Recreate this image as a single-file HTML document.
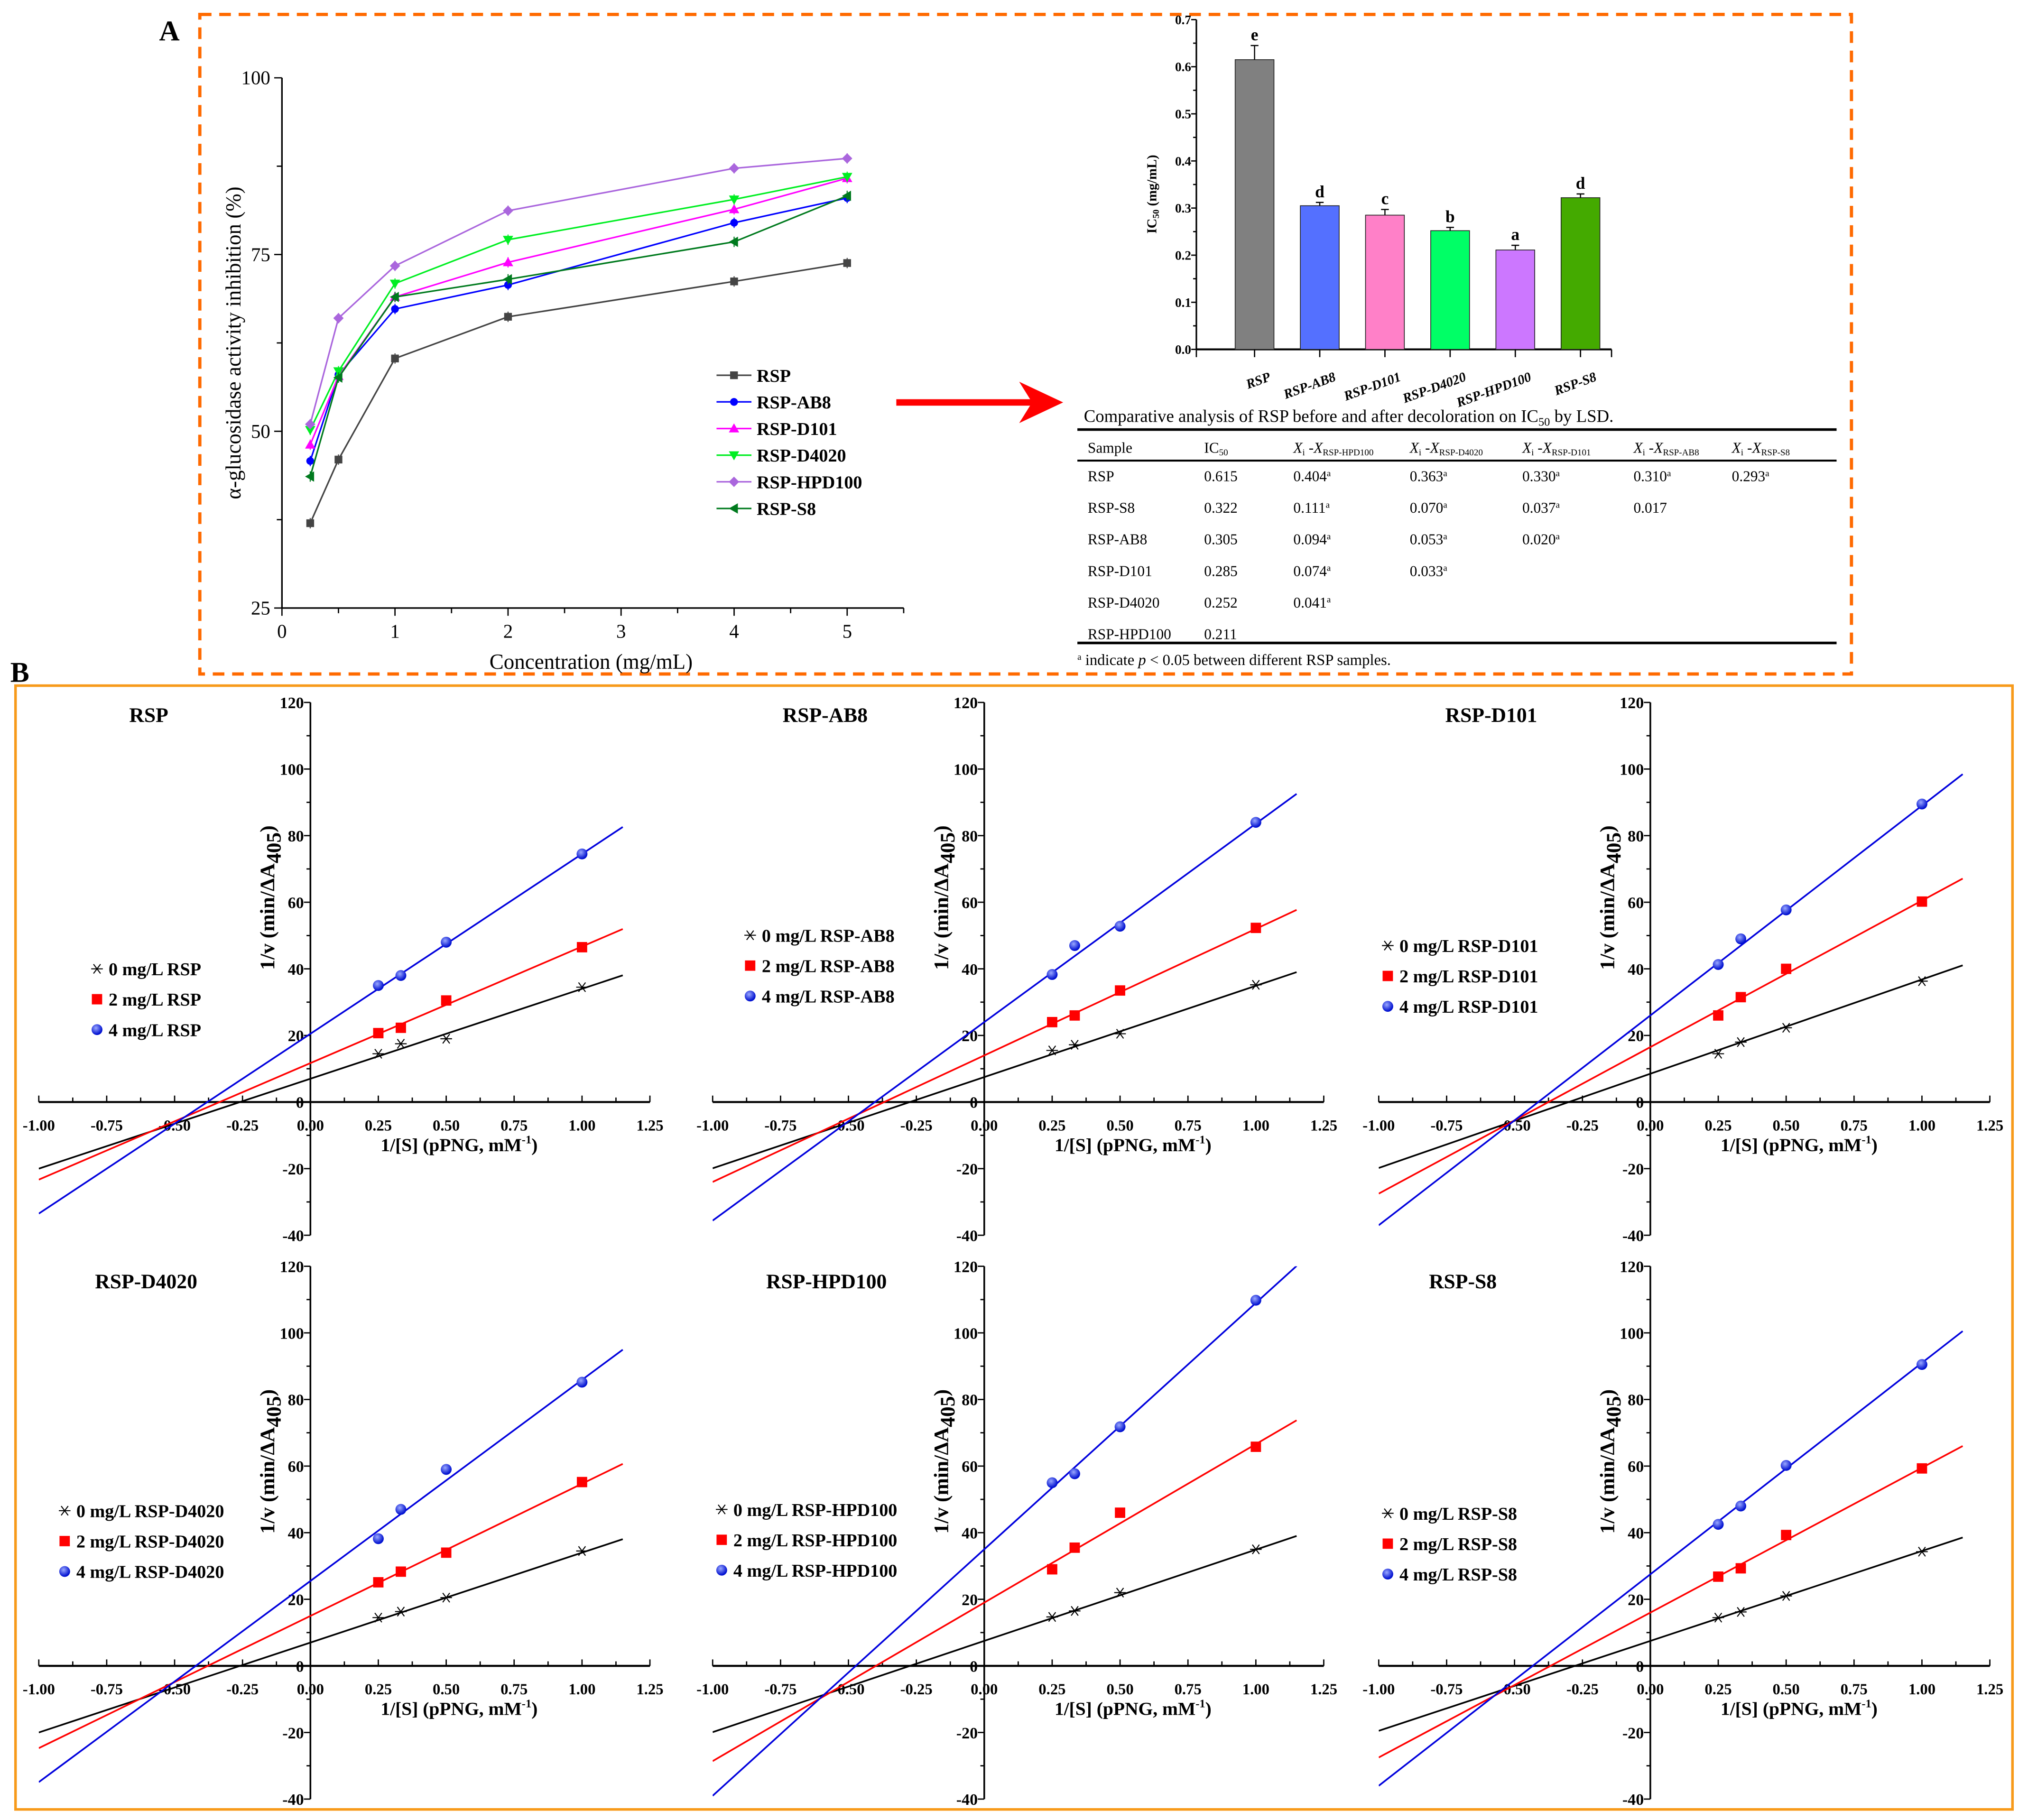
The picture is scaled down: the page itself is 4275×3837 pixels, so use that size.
<!DOCTYPE html>
<html><head><meta charset="utf-8"><style>
html,body{margin:0;padding:0;background:#fff;}
svg{display:block;}
text{font-family:"Liberation Serif","DejaVu Serif",serif;}
</style></head>
<body>
<svg id="fig" width="4275" height="3837" viewBox="0 0 1568 1407" xmlns="http://www.w3.org/2000/svg" font-family="Liberation Serif, DejaVu Serif, serif">
<rect x="0" y="0" width="1568" height="1407" fill="#fff"/>
<text x="123" y="31" font-size="22" font-weight="bold">A</text>
<text x="8" y="527" font-size="22" font-weight="bold">B</text>
<rect x="154.5" y="11" width="1277" height="510" fill="none" stroke="#ff6a00" stroke-width="2.5" stroke-dasharray="9,6"/>
<rect x="12" y="530" width="1544" height="869" fill="none" stroke="#f79a1a" stroke-width="2"/>
<g id="line-chart"></g>
<g id="bar-chart"></g>
<g id="arrow">
<line x1="693" y1="311" x2="800" y2="311" stroke="#ff0000" stroke-width="5"/>
<polygon points="822,311 788,295 798,311 788,327" fill="#ff0000"/>
</g>
<g id="table"></g>
<g id="kinetics"></g>
</svg>
<script>
// ---------- Line chart data ----------
const concX = [0.25, 0.5, 1, 2, 4, 5];
const lineSeriesNames = ["RSP","RSP-AB8","RSP-D101","RSP-D4020","RSP-HPD100","RSP-S8"];
const inhRSP = [37, 46, 60.3, 66.2, 71.2, 73.8];
const inhAB8 = [45.8, 58, 67.3, 70.7, 79.5, 83];
const inhD101 = [48.1, 57.8, 69, 73.9, 81.4, 85.8];
const inhD4020 = [50.2, 58.5, 70.9, 77.1, 82.8, 86];
const inhHPD100 = [51, 66, 73.4, 81.2, 87.2, 88.6];
const inhS8 = [43.6, 57.6, 69, 71.5, 76.8, 83.3];
const lineXTicks = [0,1,2,3,4,5];
const lineYTicks = [25,50,75,100];

// ---------- Bar chart data ----------
const barCats = ["RSP","RSP-AB8","RSP-D101","RSP-D4020","RSP-HPD100","RSP-S8"];
const barVals = [0.615, 0.305, 0.285, 0.252, 0.211, 0.322];
const barErr = [0.03, 0.007, 0.012, 0.007, 0.01, 0.008];
const barLetters = ["e","d","c","b","a","d"];
const barYTicks = [0,0.1,0.2,0.3,0.4,0.5,0.6,0.7];

// ---------- Kinetics data ----------
const invS = [0.25, 0.333, 0.5, 1];
const kinNames = ["RSP","RSP-AB8","RSP-D101","RSP-D4020","RSP-HPD100","RSP-S8"];
const kin0 = [[14.5,17.5,19,34.5],[15.5,17.2,20.5,35.2],[14.5,18,22.3,36.3],[14.5,16.3,20.5,34.5],[14.7,16.5,22,35],[14.5,16.2,21,34.3]];
const kin2 = [[20.7,22.3,30.5,46.5],[24,26,33.5,52.3],[26,31.5,40,60.2],[25.1,28.3,34,55.2],[29,35.5,46,65.8],[26.8,29.3,39.3,59.3]];
const kin4 = [[35,38,48,74.5],[38.3,47,52.8,84],[41.3,49,57.7,89.5],[38.2,47,59,85.2],[55,57.7,71.8,109.8],[42.5,48,60.2,90.5]];
const int0 = [7,7.5,8.5,7,7.5,7.5];
const slope0 = [27,27.4,28.3,27,27.4,27];
const int2 = [11.7,14,16.5,15,19,16];
const slope2 = [35,38,44,39.7,47.6,43.5];
const int4 = [20.5,24,26,25.5,35,27.5];
const slope4 = [54,59.6,63,60.4,74,63.5];
const kinXTicks = [-1,-0.75,-0.5,-0.25,0,0.25,0.5,0.75,1,1.25];
const kinXTickLabels = ["-1.00","-0.75","-0.50","-0.25","0.00","0.25","0.50","0.75","1.00","1.25"];
const kinYTicks = [-40,-20,0,20,40,60,80,100,120];

const NS = "http://www.w3.org/2000/svg";
function mk(parent, tag, attrs, txt){
  const e = document.createElementNS(NS, tag);
  for (const k in attrs) e.setAttribute(k, attrs[k]);
  if (txt !== undefined) e.textContent = txt;
  parent.appendChild(e);
  return e;
}

// ===== Line chart =====
(function(){
  const g = document.getElementById('line-chart');
  const x0 = 218, xu = 87.4, y0 = 470, yTop = 60;
  const xs = v => x0 + v*xu;
  const ys = v => y0 - (v-25)/75*(y0-yTop);
  let a = mk(g,'line',{x1:x0,y1:yTop,x2:x0,y2:y0,stroke:'#000','stroke-width':1.2});
   
  a = mk(g,'line',{x1:x0,y1:y0,x2:xs(5.5),y2:y0,stroke:'#000','stroke-width':1.2});
   
  for (let t=0;t<=5.5;t+=0.5){ mk(g,'line',{x1:xs(t),y1:y0,x2:xs(t),y2:y0+(Number.isInteger(t)?6:4),stroke:'#000','stroke-width':1}); }
  lineXTicks.forEach(t=>{ const e=mk(g,'text',{x:xs(t),y:y0+23,'font-size':15,'text-anchor':'middle'},String(t));
      });
  for (let v=25; v<=100; v+=12.5){ mk(g,'line',{x1:x0,y1:ys(v),x2:x0-(v%25===0?6:4),y2:ys(v),stroke:'#000','stroke-width':1}); }
  lineYTicks.forEach(v=>{ const e=mk(g,'text',{x:x0-9,y:ys(v)+5,'font-size':15,'text-anchor':'end'},String(v));
      });
  let t = mk(g,'text',{x:457,y:517,'font-size':16.5,'text-anchor':'middle'},'Concentration (mg/mL)');
   
  t = mk(g,'text',{x:0,y:0,'font-size':16.5,'text-anchor':'middle',transform:'translate(186,265) rotate(-90)'},'α-glucosidase activity inhibition (%)');
   
  const series = [inhRSP,inhAB8,inhD101,inhD4020,inhHPD100,inhS8];
  const colors = ['#444','#0000ff','#ff00ff','#00ee22','#aa66dd','#007a1e'];
  const shapes = ['sq','ci','tu','td','di','tl'];
  function marker(p, shape, x, y, c, s){
    let e;
    if (shape==='sq') e=mk(p,'rect',{x:x-s,y:y-s,width:2*s,height:2*s,fill:c});
    else if (shape==='ci') e=mk(p,'circle',{cx:x,cy:y,r:s,fill:c});
    else if (shape==='tu') e=mk(p,'polygon',{points:`${x},${y-s-1} ${x-s-1},${y+s} ${x+s+1},${y+s}`,fill:c});
    else if (shape==='td') e=mk(p,'polygon',{points:`${x},${y+s+1} ${x-s-1},${y-s} ${x+s+1},${y-s}`,fill:c});
    else if (shape==='di') e=mk(p,'polygon',{points:`${x},${y-s-1} ${x+s+1},${y} ${x},${y+s+1} ${x-s-1},${y}`,fill:c});
    else e=mk(p,'polygon',{points:`${x-s-1},${y} ${x+s},${y-s-1} ${x+s},${y+s+1}`,fill:c});
    return e;
  }
  series.forEach((arr,si)=>{
    const sg = mk(g,'g',{});
    
    
    const pts = arr.map((v,i)=>xs(concX[i])+','+ys(v)).join(' ');
    mk(sg,'polyline',{points:pts,fill:'none',stroke:colors[si],'stroke-width':1.2});
    arr.forEach((v,i)=>{
      const m = marker(sg, shapes[si], xs(concX[i]), ys(v), colors[si], 3);
       
      mk(sg,'line',{x1:xs(concX[i]),y1:ys(v)-4,x2:xs(concX[i]),y2:ys(v)+4,stroke:colors[si],'stroke-width':0.8});
    });
    const ly = 290 + si*20.6;
    const lg = mk(g,'g',{});
     
    mk(lg,'line',{x1:554,y1:ly,x2:581,y2:ly,stroke:colors[si],'stroke-width':1.2});
    marker(lg, shapes[si], 567.5, ly, colors[si], 3);
    mk(lg,'text',{x:585,y:ly+5,'font-size':14,'font-weight':'bold','font-family':'Liberation Serif, DejaVu Serif, serif'},lineSeriesNames[si]);
  });
})();

// ===== Bar chart =====
(function(){
  const g = document.getElementById('bar-chart');
  const ax = 925, y0 = 270, yTop = 15, xEnd = 1246;
  const ys = v => y0 - v/0.7*(y0-yTop);
  const cx = i => 970 + i*50.4;
  const colors = ['#808080','#5470ff','#ff80c8','#00ff66','#cc77ff','#44aa00'];
  let a = mk(g,'line',{x1:ax,y1:yTop,x2:ax,y2:y0,stroke:'#000','stroke-width':1.2});
   
  a = mk(g,'line',{x1:ax,y1:y0,x2:xEnd,y2:y0,stroke:'#000','stroke-width':1.5});
   
  mk(g,'line',{x1:ax,y1:y0,x2:ax,y2:y0+6,stroke:'#000','stroke-width':1});
  mk(g,'line',{x1:xEnd,y1:y0,x2:xEnd,y2:y0+6,stroke:'#000','stroke-width':1});
  for (let v=0; v<=0.701; v+=0.05){ mk(g,'line',{x1:ax,y1:ys(v),x2:ax-(Math.round(v*100)%10===0?4:2.5),y2:ys(v),stroke:'#000','stroke-width':1}); }
  barYTicks.forEach(v=>{ const e=mk(g,'text',{x:ax-4,y:ys(v)+3.5,'font-size':10,'font-weight':'bold','text-anchor':'end'},v.toFixed(1));
      });
  let t = mk(g,'text',{x:0,y:0,'font-size':10.5,'font-weight':'bold','text-anchor':'middle',transform:'translate(894,150) rotate(-90)'});
   
  t.innerHTML = 'IC<tspan font-size="7" dy="2">50</tspan><tspan dy="-2"> (mg/mL)</tspan>';
  barVals.forEach((v,i)=>{
    const r = mk(g,'rect',{x:cx(i)-15,y:ys(v),width:30,height:y0-ys(v),fill:colors[i],stroke:'#222','stroke-width':0.6});
     
    const eb = mk(g,'g',{stroke:'#000','stroke-width':0.9});
     
    mk(eb,'line',{x1:cx(i),y1:ys(v),x2:cx(i),y2:ys(v+barErr[i])});
    mk(eb,'line',{x1:cx(i)-3,y1:ys(v+barErr[i]),x2:cx(i)+3,y2:ys(v+barErr[i])});
    mk(g,'line',{x1:cx(i),y1:y0,x2:cx(i),y2:y0+6,stroke:'#000','stroke-width':1});
    const l = mk(g,'text',{x:cx(i),y:ys(v+barErr[i])-4,'font-size':13,'font-weight':'bold','text-anchor':'middle'},barLetters[i]);
     
    const c = mk(g,'text',{x:0,y:0,'font-size':10.5,'font-weight':'bold','font-style':'italic','text-anchor':'end',transform:`translate(${cx(i)+13},${y0+24}) rotate(-20)`},barCats[i]);
     
  });
})();

// ===== Table =====
(function(){
  const g = document.getElementById('table');
  let e = mk(g,'text',{x:838,y:326,'font-size':13.5},'');
   
  e.innerHTML = 'Comparative analysis of RSP before and after decoloration on IC<tspan font-size="9" dy="3">50</tspan><tspan dy="-3"> by LSD.</tspan>';
  mk(g,'line',{x1:833,y1:332,x2:1420,y2:332,stroke:'#000','stroke-width':2});
  mk(g,'line',{x1:833,y1:356,x2:1420,y2:356,stroke:'#000','stroke-width':1.5});
  mk(g,'line',{x1:833,y1:497,x2:1420,y2:497,stroke:'#000','stroke-width':2});
  const cols = [841,931,1000,1090,1177,1263,1339];
  const hdr = ['Sample','IC50','HPD100','D4020','D101','AB8','S8'];
  hdr.forEach((h,i)=>{
    const t = mk(g,'text',{x:cols[i],y:350,'font-size':11.5});
     
    if (i===0) t.textContent='Sample';
    else if (i===1) t.innerHTML='IC<tspan font-size="7" dy="2">50</tspan>';
    else t.innerHTML='<tspan font-style="italic">X</tspan><tspan font-size="7" dy="2">i</tspan><tspan dy="-2"> -</tspan><tspan font-style="italic">X</tspan><tspan font-size="7" dy="2">RSP-'+h+'</tspan>';
  });
  const rows = [
    ['RSP','0.615','0.404a','0.363a','0.330a','0.310a','0.293a'],
    ['RSP-S8','0.322','0.111a','0.070a','0.037a','0.017',''],
    ['RSP-AB8','0.305','0.094a','0.053a','0.020a','',''],
    ['RSP-D101','0.285','0.074a','0.033a','','',''],
    ['RSP-D4020','0.252','0.041a','','','',''],
    ['RSP-HPD100','0.211','','','','','']
  ];
  rows.forEach((r,ri)=>{
    const y = 372 + ri*24.4;
    r.forEach((c,ci)=>{
      if(!c) return;
      const t = mk(g,'text',{x:cols[ci],y:y,'font-size':11.5});
       
      if (c.endsWith('a')) t.innerHTML = c.slice(0,-1)+'<tspan font-size="7" dy="-4">a</tspan>';
      else t.textContent = c;
    });
  });
  e = mk(g,'text',{x:833,y:514,'font-size':12});
   
  e.innerHTML = '<tspan font-size="7" dy="-4">a</tspan><tspan dy="4"> indicate </tspan><tspan font-style="italic">p</tspan> &lt; 0.05 between different RSP samples.';
})();

// ===== Kinetics panels =====
(function(){
  const root = document.getElementById('kinetics');
  const colX = [240, 761, 1276];
  const rowY = [852, 1288];
  const xu = 210, yu = 309/120;
  const legendPos = [[75,749],[580,723],[1073,731],[50,1168],[558,1167],[1073,1170]];
  const titlePos = [[115,558],[638,558],[1153,558],[113,996],[639,996],[1131,996]];
  const defs = mk(document.getElementById('fig'),'defs',{});
  const grad = mk(defs,'radialGradient',{id:'ball',cx:'40%',cy:'35%',r:'60%'});
  mk(grad,'stop',{offset:'0%','stop-color':'#9aa8ff'});
  mk(grad,'stop',{offset:'100%','stop-color':'#0010d0'});
  const colors = ['#000','#ff0000','#0000dd'];
  const ints = [int0,int2,int4], slopes=[slope0,slope2,slope4], data=[kin0,kin2,kin4];
  const doses = ['0','2','4'];
  function star(p,x,y,s){ const gg=mk(p,'g',{stroke:'#000','stroke-width':0.8});
    mk(gg,'line',{x1:x-s,y1:y,x2:x+s,y2:y}); mk(gg,'line',{x1:x-s*0.6,y1:y-s*0.8,x2:x+s*0.6,y2:y+s*0.8}); mk(gg,'line',{x1:x-s*0.6,y1:y+s*0.8,x2:x+s*0.6,y2:y-s*0.8}); return gg; }
  function mark(p,k,x,y){
    if(k===0) return star(p,x,y,4.5);
    if(k===1) return mk(p,'rect',{x:x-4,y:y-4,width:8,height:8,fill:'#ff0000'});
    return mk(p,'circle',{cx:x,cy:y,r:4.2,fill:'url(#ball)'});
  }
  kinNames.forEach((name,pi)=>{
    const ox = colX[pi%3], oy = rowY[Math.floor(pi/3)];
    const xs = v => ox + v*xu, ys = v => oy - v*yu;
    const g = mk(root,'g',{});
     
    const clip = mk(defs,'clipPath',{id:'clip'+pi});
    mk(clip,'rect',{x:xs(-1),y:ys(120),width:xs(1.25)-xs(-1),height:ys(-40)-ys(120)});
    let a = mk(g,'line',{x1:ox,y1:ys(-40),x2:ox,y2:ys(120),stroke:'#000','stroke-width':1.3});
     
    a = mk(g,'line',{x1:xs(-1),y1:oy,x2:xs(1.25),y2:oy,stroke:'#000','stroke-width':1.6});
     
    for(let t=-1;t<=1.2501;t+=0.125){ const maj=Math.abs(t*4-Math.round(t*4))<1e-6; mk(g,'line',{x1:xs(t),y1:oy,x2:xs(t),y2:oy-(maj?5:3.5),stroke:'#000','stroke-width':1}); }
    for(let v=-40;v<=120;v+=10){ mk(g,'line',{x1:ox,y1:ys(v),x2:ox-(v%20===0?5:3),y2:ys(v),stroke:'#000','stroke-width':1}); }
    kinXTicks.forEach((t,i)=>{ const e=mk(g,'text',{x:xs(t),y:oy+22,'font-size':12,'font-weight':'bold','text-anchor':'middle'},kinXTickLabels[i]);
        });
    kinYTicks.forEach(v=>{ const e=mk(g,'text',{x:ox-5,y:ys(v)+4.5,'font-size':12.5,'font-weight':'bold','text-anchor':'end'},String(v));
        });
    let t = mk(g,'text',{x:ox+115,y:oy+38,'font-size':14.5,'font-weight':'bold','text-anchor':'middle'});
     
    t.innerHTML='1/[S] (pPNG, mM<tspan font-size="9" dy="-6">-1</tspan><tspan dy="6">)</tspan>';
    t = mk(g,'text',{x:0,y:0,'font-size':16,'font-weight':'bold','text-anchor':'middle',transform:`translate(${ox-28},${oy-158}) rotate(-90)`});
     
    t.innerHTML='1/v (min/ΔA<tspan dy="5">405</tspan><tspan dy="-5">)</tspan>';
    t = mk(g,'text',{x:titlePos[pi][0],y:titlePos[pi][1],'font-size':16,'font-weight':'bold','text-anchor':'middle'},name);
     
    for(let k=0;k<3;k++){
      const b = ints[k][pi], m = slopes[k][pi];
      const ln = mk(g,'line',{x1:xs(-1),y1:ys(b-m),x2:xs(1.15),y2:ys(b+m*1.15),stroke:colors[k],'stroke-width':1.3,'clip-path':`url(#clip${pi})`});
       
      data[k][pi].forEach((v,i)=>{ const mm=mark(g,k,xs(invS[i]),ys(v));
          });
      const [lx,ly] = legendPos[pi];
      const yy = ly + k*23.5;
      const lg = mk(g,'g',{});
       
      mark(lg,k,lx,yy);
      mk(lg,'text',{x:lx+9,y:yy+5,'font-size':14,'font-weight':'bold'},doses[k]+' mg/L '+name);
    }
  });
})();
</script>
</body></html>
